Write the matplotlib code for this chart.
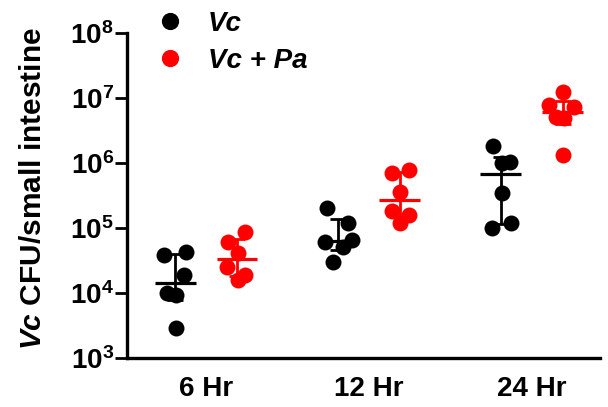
import matplotlib.pyplot as plt
import numpy as np
from matplotlib.lines import Line2D
from matplotlib.ticker import FixedLocator, LogLocator, NullFormatter

plt.rcParams["font.family"] = ["Liberation Sans", "DejaVu Sans"]
plt.rcParams["font.weight"] = "bold"
plt.rcParams["mathtext.fontset"] = "custom"
plt.rcParams["mathtext.rm"] = "Liberation Sans:bold"
plt.rcParams["mathtext.bf"] = "Liberation Sans:bold"
plt.rcParams["mathtext.it"] = "Liberation Sans:bold:italic"
plt.rcParams["mathtext.bfit"] = "Liberation Sans:bold:italic"
plt.rcParams["mathtext.default"] = "bf"

# categories and values (CFU per small intestine)
timepoints = ["6 Hr", "12 Hr", "24 Hr"]

vc_6hr = [3.8e4, 4.3e4, 1.9e4, 1.0e4, 9.3e3, 2.9e3]
vc_12hr = [2.0e5, 1.2e5, 6.1e4, 6.5e4, 5.1e4, 3.0e4]
vc_24hr = [1.8e6, 1.0e6, 1.04e6, 3.5e5, 1.0e5, 1.2e5]

vcpa_6hr = [8.8e4, 6.1e4, 4.1e4, 2.5e4, 1.9e4, 1.6e4]
vcpa_12hr = [7.0e5, 7.8e5, 3.6e5, 1.8e5, 1.6e5, 1.2e5]
vcpa_24hr = [1.24e7, 7.8e6, 7.2e6, 5.1e6, 4.9e6, 1.33e6]

# horizontal scatter of the dots inside each column
vc_jitter = [
    [-0.068, 0.068, 0.055, -0.049, 0.006, 0.006],
    [-0.068, 0.062, -0.080, 0.086, 0.031, -0.031],
    [-0.049, 0.006, 0.055, 0.006, -0.055, 0.062],
]
vcpa_jitter = [
    [0.049, -0.055, 0.006, -0.062, 0.049, 0.006],
    [-0.049, 0.055, 0.0, -0.049, 0.055, 0.0],
    [0.0, -0.086, 0.068, -0.043, 0.006, 0.0],
]

vc_values = [vc_6hr, vc_12hr, vc_24hr]
vcpa_values = [vcpa_6hr, vcpa_12hr, vcpa_24hr]

fig = plt.figure(figsize=(6.08, 4.07), dpi=100)
ax = fig.add_axes([127 / 608, 49 / 407, 473 / 608, 325 / 407])

groups = [
    (vc_values, vc_jitter, "#000000", -0.19),
    (vcpa_values, vcpa_jitter, "#ff0000", 0.19),
]

for values, jitter, color, offset in groups:
    for i in range(len(timepoints)):
        vals = np.array(values[i])
        center = i + offset
        ax.scatter(center + np.array(jitter[i]), vals, s=132, color=color,
                   linewidths=0, zorder=2, clip_on=False)

        # median with interquartile range
        med = np.median(vals)
        q1, q3 = np.percentile(vals, [25, 75], method="weibull")
        ax.plot([center - 0.125, center + 0.125], [med, med], color=color,
                lw=2.3, zorder=3, solid_capstyle="butt")
        ax.errorbar(center, med, yerr=[[med - q1], [q3 - med]], fmt="none",
                    ecolor=color, elinewidth=2, capsize=6, capthick=2, zorder=3)

ax.set_yscale("log")
ax.set_ylim(1e3, 1e8)
ax.set_xlim(-0.486, 2.42)

ax.yaxis.set_major_locator(FixedLocator([10.0 ** p for p in range(3, 9)]))
ax.set_yticklabels([r"$10^{%d}$" % p for p in range(3, 9)])
ax.yaxis.set_minor_locator(LogLocator(base=10, subs=np.arange(2, 10)))
ax.yaxis.set_minor_formatter(NullFormatter())

ax.set_xticks(range(len(timepoints)))
ax.set_xticklabels(timepoints, fontsize=20, fontweight="bold")

ax.tick_params(axis="y", which="major", length=8.5, width=2, labelsize=20, pad=1)
ax.tick_params(axis="y", which="minor", length=5, width=1.5)
ax.tick_params(axis="x", length=0, pad=13)

for side in ["top", "right"]:
    ax.spines[side].set_visible(False)
for side in ["left", "bottom"]:
    ax.spines[side].set_linewidth(2.4)

ax.set_ylabel(r"$\mathbfit{Vc}$ CFU/small intestine", fontsize=21.5,
              fontweight="bold")
ax.yaxis.set_label_coords(-0.17, 0.52)

handles = [
    Line2D([], [], marker="o", linestyle="none", color="#000000", markersize=11.4),
    Line2D([], [], marker="o", linestyle="none", color="#ff0000", markersize=11.4),
]
ax.legend(handles, ["Vc", "Vc + Pa"], loc="upper left",
          bbox_to_anchor=(156 / 608, 0.973), bbox_transform=fig.transFigure,
          frameon=False, handlelength=1.0, handletextpad=0.87, labelspacing=0.40,
          borderpad=0, borderaxespad=0,
          prop={"size": 20, "weight": "bold", "style": "italic"})

plt.savefig("out.png", dpi=100)
plt.close()
